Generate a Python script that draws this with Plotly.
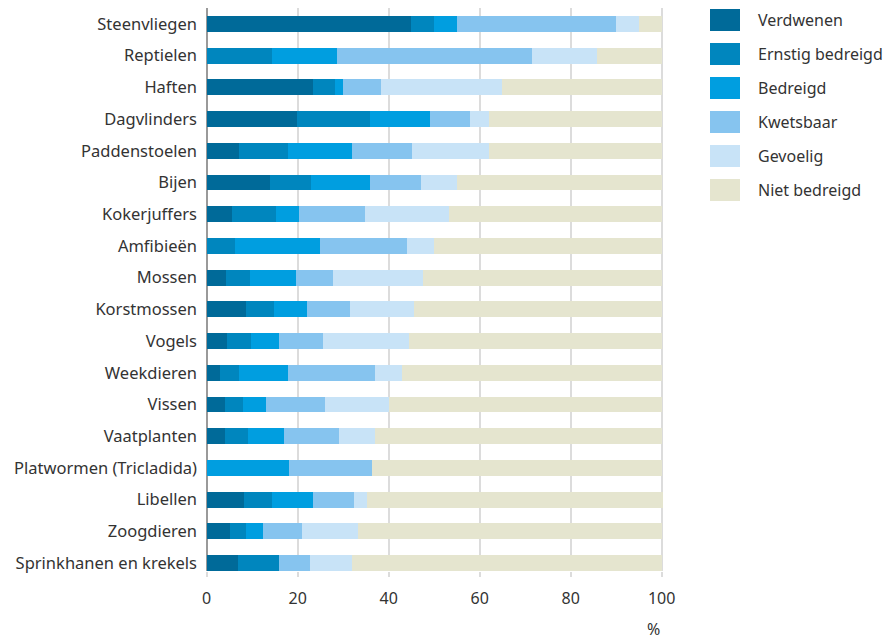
import plotly.graph_objects as go

categories = ["Steenvliegen", "Reptielen", "Haften", "Dagvlinders", "Paddenstoelen", "Bijen",
              "Kokerjuffers", "Amfibieën", "Mossen", "Korstmossen", "Vogels", "Weekdieren",
              "Vissen", "Vaatplanten", "Platwormen (Tricladida)", "Libellen", "Zoogdieren",
              "Sprinkhanen en krekels"]

verdwenen = [45, 0, 23.3, 19.9, 7.0, 14, 5.6, 0, 4.2, 8.6, 4.5, 3.0, 4, 4, 0, 8.3, 5.2, 6.8]
ernstig_bedreigd = [5, 14.3, 5.0, 16.1, 10.9, 9, 9.6, 6.25, 5.3, 6.2, 5.2, 4.0, 4, 5, 0, 6.1, 3.4, 9.1]
bedreigd = [5, 14.3, 1.7, 13.1, 14.1, 13, 5.1, 18.75, 10.1, 7.2, 6.1, 10.9, 5, 8, 18.2, 9.0, 3.7, 0]
kwetsbaar = [35, 42.9, 8.3, 8.8, 13.1, 11, 14.5, 19.0, 8.2, 9.5, 9.7, 19.1, 13, 12, 18.2, 8.9, 8.7, 6.8]
gevoelig = [5, 14.3, 26.7, 4.2, 17.0, 8, 18.4, 6.0, 19.7, 14.0, 18.9, 5.9, 14, 8, 0, 3.0, 12.3, 9.2]
niet_bedreigd = [5, 14.2, 35, 37.9, 37.9, 45, 46.8, 50, 52.5, 54.5, 55.6, 57.1, 60, 63, 63.6, 65.1, 66.7, 68.1]

series_names = ["Verdwenen", "Ernstig bedreigd", "Bedreigd", "Kwetsbaar", "Gevoelig", "Niet bedreigd"]
series_values = [verdwenen, ernstig_bedreigd, bedreigd, kwetsbaar, gevoelig, niet_bedreigd]
colors = ["#006a99", "#0086be", "#009ee0", "#86c4ef", "#c8e3f7", "#e5e5cf"]

x_ticks = [0, 20, 40, 60, 80, 100]

# body margin is removed in the page, so figure pixels == screenshot pixels
W, H = 888, 639
ML, MR, MT, MB = 206, W - 663, 8, H - 571
PW = W - ML - MR
PH = H - MT - MB

fig = go.Figure()
for name, vals, col in zip(series_names, series_values, colors):
    fig.add_trace(go.Bar(y=categories, x=vals, orientation="h", name=name,
                         marker=dict(color=col, line=dict(width=0)), showlegend=False,
                         hoverinfo="x+y+name"))

font_family = "Noto Sans, Open Sans, sans-serif"
txt_col = "#333333"


def px_x(p):
    return (p - ML) / PW


def px_y(p):
    return (H - MB - p) / PH


shapes = []
annotations = []
for i, (name, col) in enumerate(zip(series_names, colors)):
    top = 9 + 34 * i
    shapes.append(dict(type="rect", xref="paper", yref="paper",
                       x0=px_x(710), x1=px_x(740), y0=px_y(top + 22), y1=px_y(top),
                       fillcolor=col, line=dict(width=0)))
    annotations.append(dict(xref="paper", yref="paper", x=px_x(756), y=px_y(top + 11),
                            text=name, showarrow=False, xanchor="left", yanchor="middle",
                            font=dict(size=16, color=txt_col, family=font_family)))

annotations.append(dict(xref="paper", yref="paper", x=px_x(653), y=px_y(629), text="%",
                        showarrow=False, xanchor="center", yanchor="middle",
                        font=dict(size=16, color=txt_col, family=font_family)))

fig.update_layout(
    width=W, height=H,
    margin=dict(l=ML, r=MR, t=MT, b=MB),
    barmode="stack", bargap=0.5,
    plot_bgcolor="white", paper_bgcolor="white",
    font=dict(family=font_family, size=17, color=txt_col),
    shapes=shapes, annotations=annotations,
    xaxis=dict(range=[-0.15, 100.3], tickvals=x_ticks, ticktext=[str(t) for t in x_ticks],
               showgrid=True, gridcolor="#dcdcdc", gridwidth=1.5,
               zeroline=True, zerolinecolor="#9a9a9a", zerolinewidth=1.5,
               ticks="outside", ticklen=5, tickcolor="#dcdcdc", tickwidth=1.5,
               ticklabelstandoff=8, showline=False,
               tickfont=dict(size=16, color=txt_col, family=font_family)),
    yaxis=dict(categoryorder="array", categoryarray=categories, range=[17.25, -0.5],
               showgrid=False, ticks="", ticklabelstandoff=8,
               tickfont=dict(size=16.5, color=txt_col, family=font_family)),
)

fig.write_html("out.html", config={"displayModeBar": False},
               post_script="document.body.style.margin='0';document.body.style.overflow='hidden';")
